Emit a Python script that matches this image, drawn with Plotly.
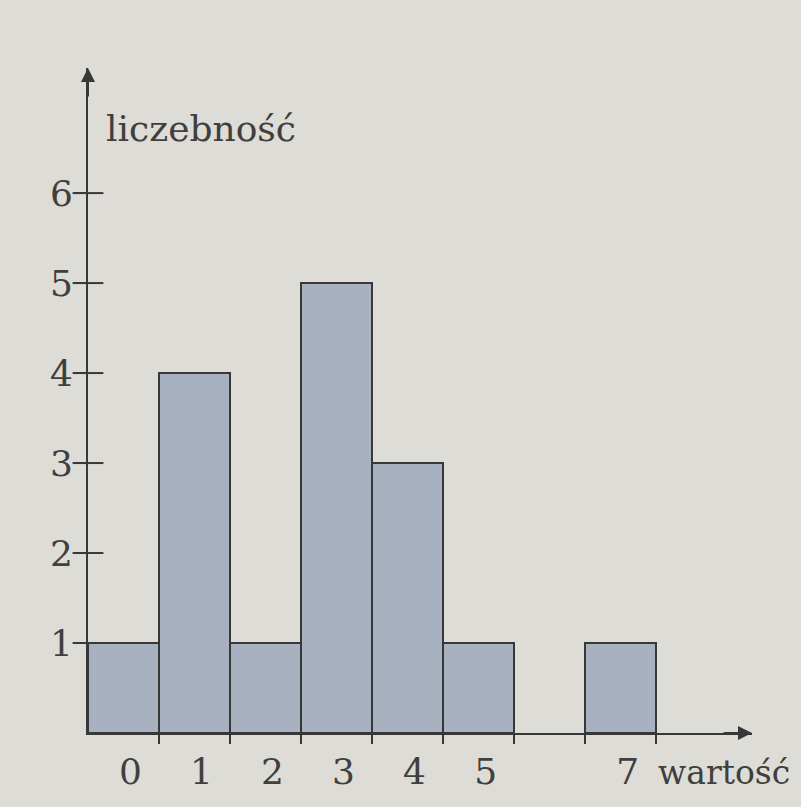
import plotly.graph_objects as go

values = [0, 1, 2, 3, 4, 5, 7]
counts = [1, 4, 1, 5, 3, 1, 1]
x_tick_labels = ["0", "1", "2", "3", "4", "5", "7"]
y_ticks = [1, 2, 3, 4, 5, 6]
bin_edges = [0.5, 1.5, 2.5, 3.5, 4.5, 5.5, 6.5, 7.5]

BG = "#dddcd7"
INK = "#383838"
TXT = "#403f3d"
FONT = "DejaVu Serif"
FS = 36

xr = [-0.5, 8.85]
yr = [0, 7.39]

fig = go.Figure()
fig.add_trace(go.Bar(
    x=values, y=counts, width=1,
    marker=dict(color="#a8b1c0", line=dict(color=INK, width=2)),
    showlegend=False, hoverinfo="skip",
))
# "+"-shaped tick marks crossing the y axis
fig.add_trace(go.Scatter(
    x=[xr[0]] * len(y_ticks), y=y_ticks, mode="markers",
    marker=dict(symbol="line-ew", size=22, color=INK,
                line=dict(color=INK, width=2)),
    cliponaxis=False, showlegend=False, hoverinfo="skip",
))

fig.update_layout(
    width=801, height=807,
    paper_bgcolor=BG, plot_bgcolor=BG,
    margin=dict(l=88, r=49, t=68, b=74),
    bargap=0,
    font=dict(family=FONT, color=TXT, size=FS),
    xaxis=dict(
        range=xr, showgrid=False, zeroline=False,
        showline=True, linecolor=INK, linewidth=2,
        tickvals=values, ticktext=x_tick_labels, ticks="",
        ticklabelstandoff=6, ticklabelshift=7,
        tickfont=dict(family=FONT, size=FS, color=TXT),
        minor=dict(tickmode="array", tickvals=bin_edges, ticks="outside",
                   ticklen=9, tickwidth=2, tickcolor=INK),
    ),
    yaxis=dict(
        range=yr, showgrid=False, zeroline=False,
        showline=True, linecolor=INK, linewidth=2,
        tickvals=y_ticks, ticks="outside", ticklen=11, tickwidth=2, tickcolor=INK,
        ticklabelstandoff=-5,
        tickfont=dict(family=FONT, size=FS, color=TXT),
    ),
)

# y axis arrow
fig.add_annotation(xref="paper", yref="paper", x=0, y=1.0, ax=0, ay=30,
                   showarrow=True, arrowhead=2, arrowsize=1.4, arrowwidth=2,
                   arrowcolor=INK, text="")
# x axis arrow
fig.add_annotation(xref="paper", yref="paper", x=1.0, y=0, ax=-30, ay=0,
                   showarrow=True, arrowhead=2, arrowsize=1.4, arrowwidth=2,
                   arrowcolor=INK, text="")

fig.add_annotation(xref="paper", yref="paper", x=0, y=1, xshift=16, yshift=-60,
                   xanchor="left", yanchor="middle", showarrow=False,
                   text="liczebność", font=dict(family=FONT, size=FS, color=TXT))
fig.add_annotation(xref="paper", yref="paper", x=1.0, y=0, yshift=-39,
                   xanchor="left", yanchor="middle", showarrow=False, xshift=-96,
                   text="wartość", font=dict(family=FONT, size=33, color=TXT))

fig.write_html("out.html", config={"displayModeBar": False})

# remove default page margin so the figure sits at the window's top-left corner
with open("out.html", encoding="utf-8") as f:
    html = f.read()
html = html.replace("<head>", "<head><style>html,body{margin:0;padding:0;background:%s;}</style>" % BG, 1)
with open("out.html", "w", encoding="utf-8") as f:
    f.write(html)
